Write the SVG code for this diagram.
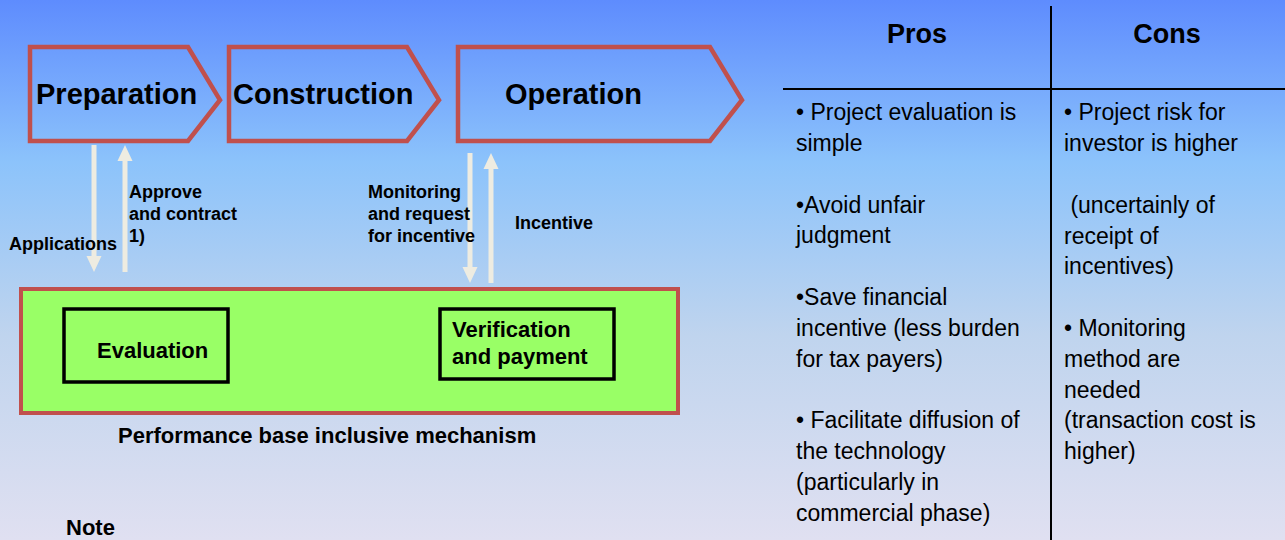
<svg xmlns="http://www.w3.org/2000/svg" width="1285" height="540" viewBox="0 0 1285 540">
  <defs>
    <linearGradient id="bg" x1="0" y1="0" x2="0" y2="1">
      <stop offset="0" stop-color="#5e8cfe"/>
      <stop offset="0.3" stop-color="#8cc3fb"/>
      <stop offset="0.62" stop-color="#bfd4ee"/>
      <stop offset="1" stop-color="#e0e0f1"/>
    </linearGradient>
    <style>
      .chev { fill: none; stroke: #c0504d; stroke-width: 4.5; }
      .phase { font-family: "Liberation Sans", Arial, sans-serif; font-weight: bold; font-size: 29px; fill: #000; }
      .lbl { font-family: "Liberation Sans", Arial, sans-serif; font-weight: bold; font-size: 18px; fill: #000; }
      .big { font-family: "Liberation Sans", Arial, sans-serif; font-weight: bold; font-size: 22px; fill: #000; }
      .box { fill: none; stroke: #000; stroke-width: 3.5; }
      .arrow { fill: #eeece1; }
      .grid { stroke: #000; stroke-width: 2; }
      .hd { font-family: "Liberation Sans", Arial, sans-serif; font-weight: bold; font-size: 27px; fill: #000; text-anchor: middle; }
      .tx { font-family: "Liberation Sans", Arial, sans-serif; font-size: 23px; fill: #000; }
    </style>
  </defs>
  <rect x="0" y="0" width="1285" height="540" fill="url(#bg)"/>

  <g id="preparation">
    <path class="chev" d="M30,47 H188 L220,100 L188,141 H30 Z"/>
    <text class="phase" x="36" y="104">Preparation</text>
  </g>
  <g id="construction">
    <path class="chev" d="M229,47 H407 L439,100 L407,141 H229 Z"/>
    <text class="phase" x="233" y="104">Construction</text>
  </g>
  <g id="operation">
    <path class="chev" d="M458,47 H710 L742,100 L710,141 H458 Z"/>
    <text class="phase" x="505" y="104">Operation</text>
  </g>

  <g id="mechanism">
    <rect x="21" y="289" width="657" height="124" fill="#99ff66" stroke="#c0504d" stroke-width="4"/>
    <text class="big" x="118" y="443">Performance base inclusive mechanism</text>
  </g>
  <g id="evaluation">
    <rect class="box" x="64" y="309" width="164" height="73"/>
    <text class="big" x="97" y="358">Evaluation</text>
  </g>
  <g id="verification">
    <rect class="box" x="440" y="309" width="174" height="70"/>
    <text class="big" x="452" y="337">Verification</text>
    <text class="big" x="452" y="364">and payment</text>
  </g>

  <g id="connectors">
    <path class="arrow" d="M91.5,145 H96.5 V256 H101.5 L94,272 L86.5,256 H91.5 Z"/>
    <path class="arrow" d="M122.5,272 V161 H117.5 L125,145 L132.5,161 H127.5 V272 Z"/>
    <path class="arrow" d="M467.5,153 H472.5 V267 H477.5 L470,283 L462.5,267 H467.5 Z"/>
    <path class="arrow" d="M488.5,283 V169 H483.5 L491,153 L498.5,169 H493.5 V283 Z"/>
    <text class="lbl" x="9" y="250">Applications</text>
    <text class="lbl" x="129" y="198">Approve</text>
    <text class="lbl" x="129" y="220">and contract</text>
    <text class="lbl" x="129" y="242">1)</text>
    <text class="lbl" x="368" y="198">Monitoring</text>
    <text class="lbl" x="368" y="220">and request</text>
    <text class="lbl" x="368" y="242">for incentive</text>
    <text class="lbl" x="515" y="229">Incentive</text>
  </g>

  <text class="big" x="66" y="535">Note</text>

  <g id="table">
    <line class="grid" x1="1051" y1="6" x2="1051" y2="540"/>
    <line class="grid" x1="783" y1="89" x2="1285" y2="89"/>
    <text class="hd" x="917" y="43">Pros</text>
    <text class="hd" x="1167" y="43">Cons</text>
    <text class="tx" x="796" y="120">• Project evaluation is</text>
    <text class="tx" x="796" y="151">simple</text>
    <text class="tx" x="796" y="213">•Avoid unfair</text>
    <text class="tx" x="796" y="243">judgment</text>
    <text class="tx" x="796" y="305">•Save financial</text>
    <text class="tx" x="796" y="336">incentive (less burden</text>
    <text class="tx" x="796" y="367">for tax payers)</text>
    <text class="tx" x="796" y="428">• Facilitate diffusion of</text>
    <text class="tx" x="796" y="459">the technology</text>
    <text class="tx" x="796" y="490">(particularly in</text>
    <text class="tx" x="796" y="521">commercial phase)</text>
    <text class="tx" x="1064" y="120">• Project risk for</text>
    <text class="tx" x="1064" y="151">investor is higher</text>
    <text class="tx" x="1064" y="213" xml:space="preserve"> (uncertainly of</text>
    <text class="tx" x="1064" y="244">receipt of</text>
    <text class="tx" x="1064" y="274">incentives)</text>
    <text class="tx" x="1064" y="336">• Monitoring</text>
    <text class="tx" x="1064" y="367">method are</text>
    <text class="tx" x="1064" y="398">needed</text>
    <text class="tx" x="1064" y="428">(transaction cost is</text>
    <text class="tx" x="1064" y="459">higher)</text>
  </g>
</svg>
